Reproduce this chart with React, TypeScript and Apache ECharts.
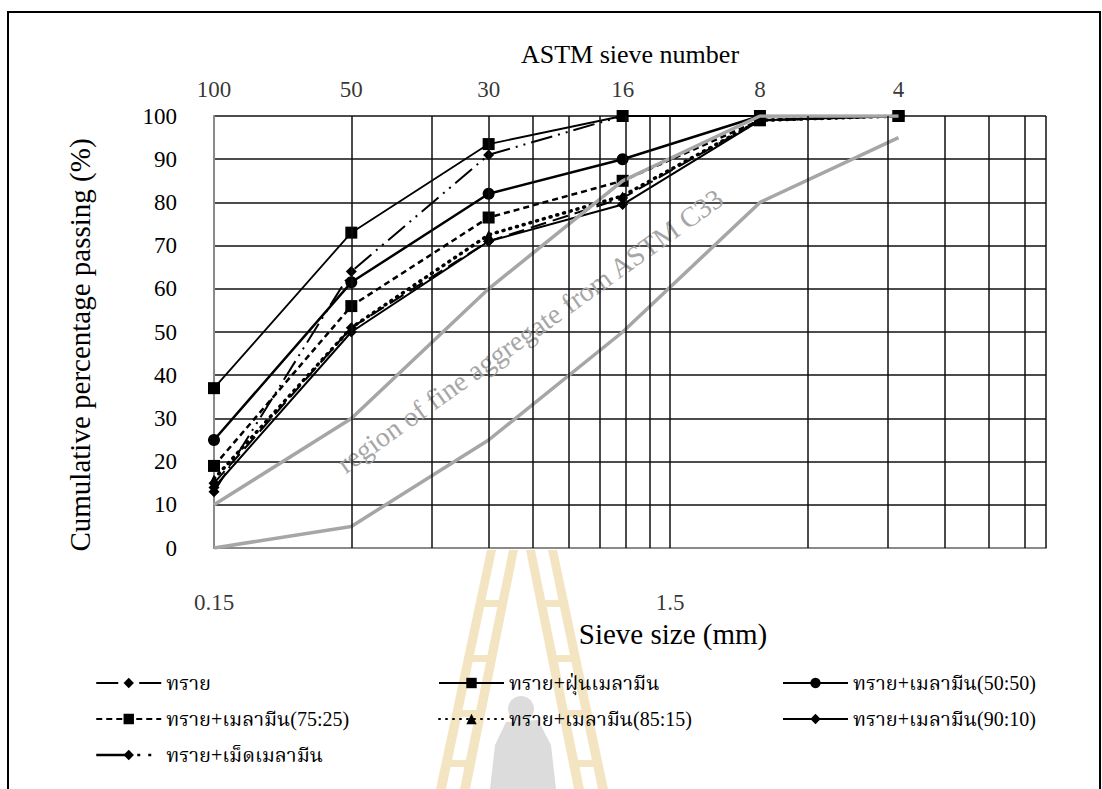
import React, { useEffect, useRef } from 'react';
import * as echarts from 'echarts';

// ---------------- data ----------------
const sieveSizes = [0.15, 0.3, 0.6, 1.18, 2.36, 4.75]; // mm
const sieveNumbers = ['100', '50', '30', '16', '8', '4'];
const xTickValues = [0.15, 1.5];
const xTickLabels = ['0.15', '1.5'];
const xMinorGrid = [0.3, 0.45, 0.6, 0.75, 0.9, 1.05, 1.2, 1.35, 1.5, 3, 4.5, 6, 7.5, 9, 10];

const sand = [15, 51, 71, 81, 99, 100];
const sandDust = [37, 73, 93.5, 100, 100, 100];
const mix5050 = [25, 61.5, 82, 90, 100, 100];
const mix7525 = [19, 56, 76.5, 85, 99, 100];
const mix8515 = [16, 51, 72.5, 81.5, 99, 100];
const mix9010 = [14, 50, 71, 79.5, 99, 100];
const sandPellet = [13, 64, 91, 100, 100, 100];
const astmUpper = [10, 30, 60, 85, 100, 100];
const astmLower = [0, 5, 25, 50, 80, 95];

const FONT = "'Liberation Serif', 'Times New Roman', 'Noto Serif Thai', 'Noto Sans Thai', serif";

const pair = (vals: number[]) => sieveSizes.map((s, i) => [s, vals[i]]);

function lineSeries(name: string, vals: number[], symbol: string, symbolSize: number, type: any, width: number, cap = 'butt') {
  return {
    type: 'line',
    name,
    data: pair(vals),
    symbol,
    symbolSize,
    showSymbol: true,
    lineStyle: { color: '#000', width, type, cap },
    itemStyle: { color: '#000' },
    z: 3,
    silent: true,
  };
}

export default function App() {
  const ref = useRef<HTMLDivElement>(null);
  useEffect(() => {
    if (!ref.current) return;
    const chart = echarts.init(ref.current, undefined, { renderer: 'svg' });

    const legendCommon = {
      orient: 'vertical',
      itemWidth: 65,
      itemHeight: 13,
      itemGap: 12,
      selectedMode: false,
      textStyle: { fontSize: 20, fontFamily: FONT, color: '#000', lineHeight: 24 },
    };

    const waterColor = '#f4e5c2';
    const leftRails = [
      [[487, 550], [496, 550], [446, 789], [436, 789]],
      [[509, 550], [518, 550], [470, 789], [460, 789]],
    ];
    const mirror = (pts: number[][]) => pts.map(([x, y]) => [1044 - x, y]);
    const rungYs = [600, 655, 710, 760];
    const rungs: any[] = [];
    rungYs.forEach((y) => {
      const dx = (y - 550) * 0.21;
      rungs.push({ type: 'rect', shape: { x: 492 - dx, y, width: 20, height: 7 }, style: { fill: waterColor }, z: -5 });
      rungs.push({ type: 'rect', shape: { x: 1044 - 512 + dx, y, width: 20, height: 7 }, style: { fill: waterColor }, z: -5 });
    });

    chart.setOption({
      animation: false,
      backgroundColor: '#fff',
      grid: { left: 214, top: 116, width: 832, height: 432, containLabel: false },
      xAxis: {
        type: 'log',
        logBase: 10,
        min: 0.15,
        max: 10,
        axisLabel: { show: false },
        axisTick: { show: false },
        splitLine: { show: false },
        minorTick: { show: false },
        axisLine: { show: true, lineStyle: { color: '#8a8a8a', width: 2 } },
      },
      yAxis: {
        type: 'value',
        min: 0,
        max: 100,
        interval: 10,
        axisTick: { show: false },
        axisLine: { show: true, lineStyle: { color: '#8a8a8a', width: 2 } },
        axisLabel: { fontSize: 23, fontFamily: FONT, color: '#000', margin: 37 },
        splitLine: { show: true, lineStyle: { color: '#111', width: 1.5 } },
      },
      legend: [
        {
          ...legendCommon,
          left: 90,
          top: 666,
          data: [
            { name: 'ทราย', lineStyle: { type: [22, 21, 22, 0] } },
            'ทราย+เมลามีน(75:25)',
            { name: 'ทราย+เม็ดเมลามีน', lineStyle: { type: [33, 8, 3, 8, 3, 20], width: 2.5 } },
          ],
        },
        { ...legendCommon, left: 433, top: 666, data: ['ทราย+ฝุ่นเมลามีน', 'ทราย+เมลามีน(85:15)'] },
        { ...legendCommon, left: 777, top: 666, data: ['ทราย+เมลามีน(50:50)', 'ทราย+เมลามีน(90:10)'] },
      ],
      graphic: [
        { type: 'rect', shape: { x: 8, y: 12, width: 1092, height: 800 }, style: { fill: 'none', stroke: '#000', lineWidth: 2 }, z: -10 },
        ...leftRails.map((p) => ({ type: 'polygon', shape: { points: p }, style: { fill: waterColor }, z: -5 })),
        ...leftRails.map((p) => ({ type: 'polygon', shape: { points: mirror(p) }, style: { fill: waterColor }, z: -5 })),
        ...rungs,
        { type: 'circle', shape: { cx: 521, cy: 709, r: 13 }, style: { fill: '#dcdcdc' }, z: -4 },
        { type: 'polygon', shape: { points: [[506, 722], [538, 720], [551, 745], [556, 789], [490, 789], [495, 745]] }, style: { fill: '#dcdcdc' }, z: -4 },
        { type: 'text', x: 630, y: 54, style: { text: 'ASTM sieve number', fontSize: 26, fontFamily: FONT, fill: '#000', align: 'center', verticalAlign: 'middle' } },
        { type: 'text', x: 673, y: 634, style: { text: 'Sieve size (mm)', fontSize: 29, fontFamily: FONT, fill: '#000', align: 'center', verticalAlign: 'middle' } },
        { type: 'text', x: 80, y: 345, rotation: Math.PI / 2, style: { text: 'Cumulative percentage passing (%)', fontSize: 29, fontFamily: FONT, fill: '#000', align: 'center', verticalAlign: 'middle' } },
        { type: 'text', x: 530, y: 331, rotation: 0.62, style: { text: 'region of fine aggregate from ASTM C33', fontSize: 28, fontFamily: FONT, fill: '#a6a6a6', align: 'center', verticalAlign: 'middle' }, z: 2 },
      ],
      series: [
        {
          type: 'scatter',
          name: 'topLabels',
          data: sieveSizes.map((s) => [s, 100]),
          symbolSize: 1,
          itemStyle: { color: 'rgba(0,0,0,0)' },
          silent: true,
          z: 1,
          label: {
            show: true,
            position: 'top',
            distance: 15,
            formatter: (p: any) => sieveNumbers[p.dataIndex],
            fontSize: 23,
            fontFamily: FONT,
            color: '#000',
          },
          markLine: {
            silent: true,
            symbol: ['none', 'none'],
            label: { show: false },
            lineStyle: { color: '#111', width: 1.5, type: 'solid' },
            data: xMinorGrid.map((v) => ({ xAxis: v })),
          },
        },
        {
          type: 'scatter',
          name: 'bottomLabels',
          data: xTickValues.map((v) => [v, 0]),
          symbolSize: 1,
          itemStyle: { color: 'rgba(0,0,0,0)' },
          silent: true,
          z: 1,
          label: {
            show: true,
            position: 'bottom',
            distance: 42,
            formatter: (p: any) => xTickLabels[p.dataIndex],
            fontSize: 23,
            fontFamily: FONT,
            color: '#000',
          },
        },
        lineSeries('ทราย', sand, 'diamond', 11, [16, 7], 2),
        lineSeries('ทราย+ฝุ่นเมลามีน', sandDust, 'rect', 12, 'solid', 1.8),
        lineSeries('ทราย+เมลามีน(50:50)', mix5050, 'circle', 12, 'solid', 2.5),
        lineSeries('ทราย+เมลามีน(75:25)', mix7525, 'rect', 12, [6, 4], 2.5),
        lineSeries('ทราย+เมลามีน(85:15)', mix8515, 'triangle', 9, [1, 6], 3.5, 'round'),
        lineSeries('ทราย+เมลามีน(90:10)', mix9010, 'diamond', 11, 'solid', 2),
        lineSeries('ทราย+เม็ดเมลามีน', sandPellet, 'diamond', 11, [22, 6, 2, 6, 2, 6], 2),
        {
          type: 'line',
          name: 'ASTM upper',
          data: pair(astmUpper),
          symbol: 'none',
          lineStyle: { color: '#a6a6a6', width: 3.5 },
          z: 4,
          silent: true,
        },
        {
          type: 'line',
          name: 'ASTM lower',
          data: pair(astmLower),
          symbol: 'none',
          lineStyle: { color: '#a6a6a6', width: 3.5 },
          z: 4,
          silent: true,
        },
      ],
    });
    return () => chart.dispose();
  }, []);

  return <div ref={ref} style={{ position: 'fixed', left: 0, top: 0, width: 1102, height: 789 }} />;
}
